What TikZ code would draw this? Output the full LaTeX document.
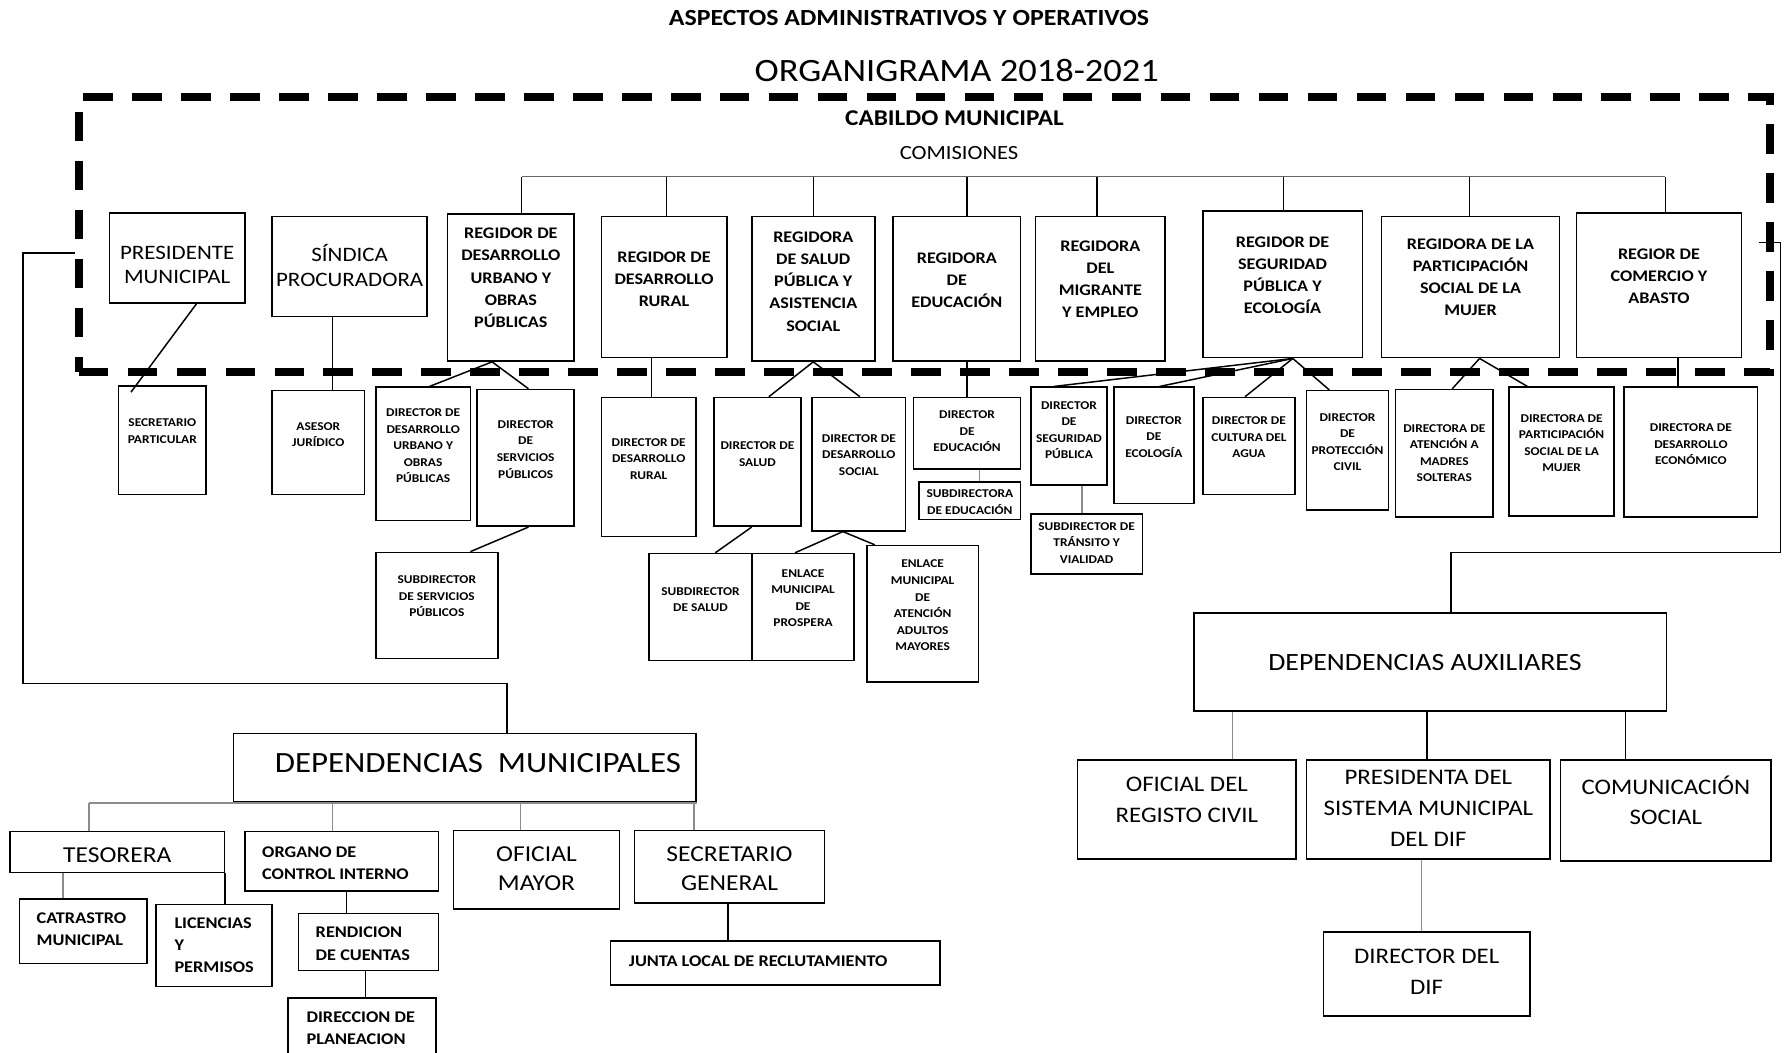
\documentclass[tikz,border=0pt]{standalone}
\usepackage{fontspec}
\setmainfont{Carlito}[FakeStretch=1.12]
\usepackage{tikz}

\begin{document}
\begin{tikzpicture}[x=1pt, y=-1pt,
  box/.style={draw, line width=1.4pt, inner sep=0pt},
  cabbox/.style={draw, line width=7pt, dash pattern=on 26pt off 17pt, inner sep=0pt},
  ln/.style={line width=1.3pt},
  gln/.style={line width=1.5pt, black!45},
  ftop/.style={font=\fontsize{14.2}{19.5}\selectfont\bfseries, align=center, inner sep=0pt},
  fbig/.style={font=\fontsize{18}{21.5}\selectfont, align=center, inner sep=0pt},
  fdir/.style={font=\fontsize{10.5}{14.5}\selectfont\bfseries, align=center, inner sep=0pt},
  fdep/.style={font=\fontsize{20}{25.5}\selectfont, align=center, inner sep=0pt},
  faux/.style={font=\fontsize{19.5}{27}\selectfont, align=center, inner sep=0pt},
  fsub/.style={font=\fontsize{14.3}{19.5}\selectfont\bfseries, align=left, anchor=west, inner sep=0pt}]
  \useasboundingbox (0,0) rectangle (1568,924);
  \fill[white] (0,0) rectangle (1568,924);

  % headings
  \node[font=\fontsize{20.3}{22}\selectfont\bfseries] (ttl) at (798,16) {ASPECTOS ADMINISTRATIVOS Y OPERATIVOS};
  \node[font=\fontsize{28.6}{30}\selectfont] (orgt) at (840,62) {ORGANIGRAMA 2018-2021};
  \node[cabbox, minimum width=1485, minimum height=242] (cab) at (811.5,206) {};
  \node[font=\fontsize{19.8}{22}\selectfont\bfseries] (cabt) at (838,104) {CABILDO MUNICIPAL};
  \node[font=\fontsize{17.7}{20}\selectfont] (comt) at (842,134) {COMISIONES};

  % cabildo, first row
  \foreach \nm/\xa/\ya/\xb/\yb/\ty/\txt in {
      pres/96/187/215/266/232.5/{PRESIDENTE\\MUNICIPAL},
      sin/239/190/375/278/233/{SÍNDICA\\PROCURADORA}}{
    \node[box, minimum width={\xb-\xa}, minimum height={\yb-\ya}] (\nm) at ({(\xa+\xb)/2},{(\ya+\yb)/2}) {};
    \node[fbig] (\nm-t) at ({(\xa+\xb)/2},\ty) {\txt};
  }
  \foreach \nm/\xa/\ya/\xb/\yb/\ty/\txt in {
      rdu/393/188/504/317/244/{REGIDOR DE\\DESARROLLO\\URBANO Y\\OBRAS\\PÚBLICAS},
      rdr/528/190/638/314/245/{REGIDOR DE\\DESARROLLO\\RURAL},
      rsa/660/190/768/317/247/{REGIDORA\\DE SALUD\\PÚBLICA Y\\ASISTENCIA\\SOCIAL},
      red/784/190/896/317/246/{REGIDORA\\DE\\EDUCACIÓN},
      rmi/909/190/1023/317/245/{REGIDORA\\DEL\\MIGRANTE\\Y EMPLEO},
      rse/1056/185/1196/314/241.5/{REGIDOR DE\\SEGURIDAD\\PÚBLICA Y\\ECOLOGÍA},
      rpa/1213/190/1369/314/243.5/{REGIDORA DE LA\\PARTICIPACIÓN\\SOCIAL DE LA\\MUJER},
      rca/1384/187/1529/314/242.5/{REGIOR DE\\COMERCIO Y\\ABASTO}}{
    \node[box, minimum width={\xb-\xa}, minimum height={\yb-\ya}] (\nm) at ({(\xa+\xb)/2},{(\ya+\yb)/2}) {};
    \node[ftop] (\nm-t) at ({(\xa+\xb)/2},\ty) {\txt};
  }

  % directores
  \foreach \nm/\xa/\ya/\xb/\yb/\ty/\txt in {
      sec/104/339/181/434/378.5/{SECRETARIO\\PARTICULAR},
      ase/239/343/320/434/381.5/{ASESOR\\JURÍDICO},
      ddu/330/340/413/457/391.5/{DIRECTOR DE\\DESARROLLO\\URBANO Y\\OBRAS\\PÚBLICAS},
      dsp/419/342/504/462/394.5/{DIRECTOR\\DE\\SERVICIOS\\PÚBLICOS},
      sds/330/485/437/578/523.5/{SUBDIRECTOR\\DE SERVICIOS\\PÚBLICOS},
      ddr/528/349/611/471/403/{DIRECTOR DE\\DESARROLLO\\RURAL},
      dsa/627/349/703/462/398.5/{DIRECTOR DE\\SALUD},
      dds/713/349/795/466/399.5/{DIRECTOR DE\\DESARROLLO\\SOCIAL},
      ssa/570/486/660/580/526.5/{SUBDIRECTOR\\DE SALUD},
      epr/660/486/750/580/525/{ENLACE\\MUNICIPAL\\DE\\PROSPERA},
      eam/761/479/859/599/531.5/{ENLACE\\MUNICIPAL\\DE\\ATENCIÓN\\ADULTOS\\MAYORES},
      ded/802/349/896/412/378.5/{DIRECTOR\\DE\\EDUCACIÓN},
      sed/807/423/896/456/441/{SUBDIRECTORA\\DE EDUCACIÓN},
      dsg/905/340/972/426/377.5/{DIRECTOR\\DE\\SEGURIDAD\\PÚBLICA},
      stv/905/451/1003/504/476.5/{SUBDIRECTOR DE\\TRÁNSITO Y\\VIALIDAD},
      dec/978/340/1048/442/383.5/{DIRECTOR\\DE\\ECOLOGÍA},
      dca/1056/349/1137/434/384/{DIRECTOR DE\\CULTURA DEL\\AGUA},
      dpc/1147/343/1219/448/388/{DIRECTOR\\DE\\PROTECCIÓN\\CIVIL},
      dms/1225/342/1311/454/398/{DIRECTORA DE\\ATENCIÓN A\\MADRES\\SOLTERAS},
      dps/1325/340/1417/453/389/{DIRECTORA DE\\PARTICIPACIÓN\\SOCIAL DE LA\\MUJER},
      dde/1426/340/1543/454/390/{DIRECTORA DE\\DESARROLLO\\ECONÓMICO}}{
    \node[box, minimum width={\xb-\xa}, minimum height={\yb-\ya}] (\nm) at ({(\xa+\xb)/2},{(\ya+\yb)/2}) {};
    \node[fdir] (\nm-t) at ({(\xa+\xb)/2},\ty) {\txt};
  }

  % dependencias municipales
  \node[box, minimum width=406, minimum height=60] (dm) at (408,674) {};
  \node[font=\fontsize{25.8}{28}\selectfont, inner sep=0pt] (dm-t) at (419.5,670) {DEPENDENCIAS\ \ MUNICIPALES};
  \foreach \nm/\xa/\ya/\xb/\yb/\ty/\txt in {
      tes/9/730/197/766/751/{TESORERA},
      ofm/398/729/544/798/762.5/{OFICIAL\\MAYOR},
      sgen/557/729/724/793/762.5/{SECRETARIO\\GENERAL}}{
    \node[box, minimum width={\xb-\xa}, minimum height={\yb-\ya}] (\nm) at ({(\xa+\xb)/2},{(\ya+\yb)/2}) {};
    \node[fdep] (\nm-t) at ({(\xa+\xb)/2},\ty) {\txt};
  }
  \foreach \nm/\xa/\ya/\xb/\yb/\tx/\ty/\txt in {
      org/215/730/385/782/230/758/{ORGANO DE\\CONTROL INTERNO},
      cat/17/789/129/846/32/815.5/{CATRASTRO\\MUNICIPAL},
      lic/137/794/239/866/153/830/{LICENCIAS\\Y\\PERMISOS},
      ren/262/802/385/852/277/828.5/{RENDICION\\DE CUENTAS},
      dpl/253/876/383/940/269/902.5/{DIRECCION DE\\PLANEACION},
      jun/536/826/825/865/552/844/{JUNTA LOCAL DE RECLUTAMIENTO}}{
    \node[box, minimum width={\xb-\xa}, minimum height={\yb-\ya}] (\nm) at ({(\xa+\xb)/2},{(\ya+\yb)/2}) {};
    \node[fsub] (\nm-t) at (\tx,\ty) {\txt};
  }

  % dependencias auxiliares
  \node[box, minimum width=415, minimum height=86] (da) at (1255.5,581) {};
  \node[font=\fontsize{21.8}{24}\selectfont, inner sep=0pt] (da-t) at (1251,582) {DEPENDENCIAS AUXILIARES};
  \foreach \nm/\xa/\ya/\xb/\yb/\ty/\txt in {
      ofi/946/667/1138/754/702.5/{OFICIAL DEL\\REGISTO CIVIL},
      pdif/1147/667/1361/754/709.5/{PRESIDENTA DEL\\SISTEMA MUNICIPAL\\DEL DIF},
      com/1370/667/1555/756/702.5/{COMUNICACIÓN\\SOCIAL},
      ddif/1162/818/1343/892/853/{DIRECTOR DEL\\DIF}}{
    \node[box, minimum width={\xb-\xa}, minimum height={\yb-\ya}] (\nm) at ({(\xa+\xb)/2},{(\ya+\yb)/2}) {};
    \node[faux] (\nm-t) at ({(\xa+\xb)/2},\ty) {\txt};
  }

  % comisiones bus
  \coordinate (cbus) at (0,155);
  \foreach \n/\dx in {rdu/9.5, rdr/2, rsa/0, red/9, rmi/-3, rse/1, rpa/-1, rca/5.5}
    \draw[ln] ([xshift=\dx]\n.north) -- ([xshift=\dx]\n.north |- cbus);
  \draw[line width=1.3pt, black!60] ([xshift=9.5]rdu.north |- cbus) -- ([xshift=5.5]rca.north |- cbus);

  % cabildo to directores
  \draw[ln] ([xshift=17]pres.south) -- ([xshift=-27.5,yshift=-6]sec.north);
  \draw[ln] ([xshift=-15]sin.south) -- ([xshift=12.5]ase.north);
  \foreach \a/\da/\b/\db in {rdu/-16.5/ddu/5.5, rdu/-16.5/dsp/2.5, dsp/2.5/sds/29.5,
      rdr/-11/ddr/2.5, rsa/0/dsa/10, rsa/0/dds/1, dsa/-5/ssa/13, dds/-14/epr/-7,
      dds/-14/eam/-42, red/9/ded/0, rse/9/dsg/-13.5, rse/9/dec/5, rse/9/dca/-3.5,
      rse/9/dpc/-16, rpa/8/dms/7, rpa/8/dps/-30, rca/16.5/dde/-11.5}
    \draw[ln] ([xshift=\da]\a.south) -- ([xshift=\db]\b.north);
  \draw[gln] ([xshift=11]ded.south) -- ([xshift=8.5]sed.north);
  \draw[gln] ([xshift=11.5]dsg.south) -- ([xshift=-4]stv.north);

  % out of the cabildo
  \coordinate (lft) at (20,600);
  \coordinate (rgt) at (1563,485);
  \draw[ln] ([yshift=-16]cab.west) -| (lft) -| ([xshift=37]dm.north);
  \draw[ln] ([xshift=-13,yshift=-7]cab.east) -| (rgt) -| ([xshift=18.5]da.north);

  % municipales
  \foreach \n/\dx in {tes/-25, org/-8, ofm/-14, sgen/-31.5}
    \draw[gln] ([xshift=\dx]\n.north) -- ([xshift=\dx]\n.north |- dm.south);
  \draw[gln] ([xshift=-25]tes.north |- dm.south) -- (dm.south east);
  \draw[gln] ([xshift=-18]cat.north) -- ([xshift=-18]cat.north |- tes.south);
  \draw[ln] (tes.south east) -- (tes.south east |- lic.north);
  \draw[ln] ([xshift=-19.5]ren.north) -- ([xshift=-19.5]ren.north |- org.south);
  \draw[ln] ([xshift=3]dpl.north) -- ([xshift=3]dpl.north |- ren.south);
  \draw[ln] ([xshift=-41.5]jun.north) -- ([xshift=-41.5]jun.north |- sgen.south);

  % auxiliares
  \draw[gln] ([xshift=40]ofi.north) -- ([xshift=40]ofi.north |- da.south);
  \draw[ln] ([xshift=-1]pdif.north) -- ([xshift=-1]pdif.north |- da.south);
  \draw[ln] ([xshift=-35.5]com.north) -- ([xshift=-35.5]com.north |- da.south);
  \draw[gln] ([xshift=-4.5]ddif.north) -- ([xshift=-4.5]ddif.north |- pdif.south);
\end{tikzpicture}
\end{document}
